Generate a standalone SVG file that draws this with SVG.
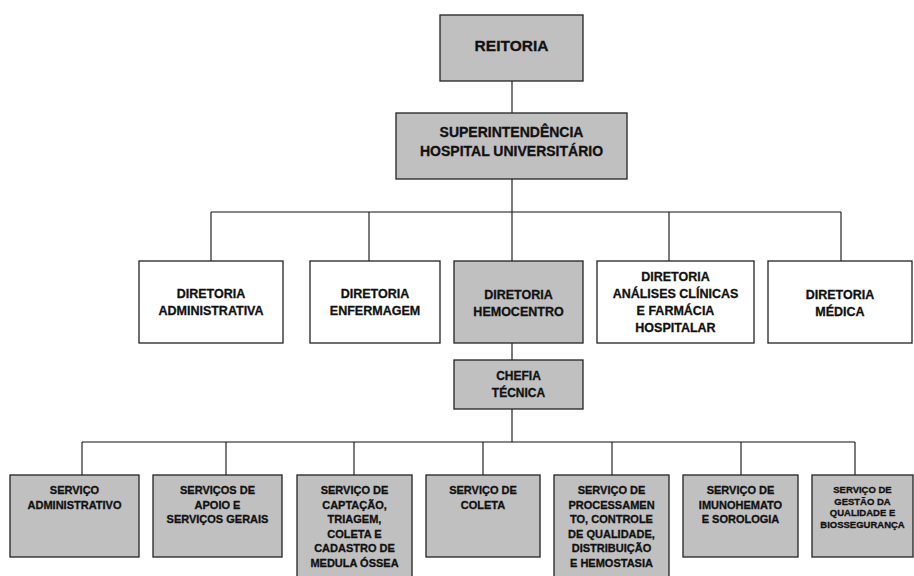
<svg xmlns="http://www.w3.org/2000/svg" width="914" height="576" viewBox="0 0 914 576">
  <style>
    .box { stroke: #222; stroke-width: 1.3; }
    .gray { fill: #c0c0c0; }
    .white { fill: #ffffff; }
    .t { font-family: "Liberation Sans", Arial, sans-serif; font-weight: 700; fill: #111; stroke: #111; stroke-width: 0.3; text-anchor: middle; }
    .f155 { font-size: 15.5px; }
    .f14 { font-size: 14px; }
    .f125 { font-size: 12.5px; }
    .f12 { font-size: 12px; }
    .f11 { font-size: 11px; }
    .f95 { font-size: 9.5px; }
    .link { stroke: #111; stroke-width: 1.1; fill: none; }
  </style>
  <rect x="0" y="0" width="914" height="576" fill="#ffffff"/>

  <g id="connectors">
    <path class="link" d="M512 81 V113 M512 179 V212 M211 212 H841 M211 212 V261 M369 212 V261 M512 212 V261 M669 212 V261 M841 212 V261"/>
    <path class="link" d="M512 343 V360 M512 409 V442 M82 442 H855 M82 442 V475 M226 442 V475 M354 442 V475 M483 442 V475 M612 442 V475 M741 442 V475 M855 442 V475"/>
  </g>

  <g id="reitoria">
    <rect class="box gray" x="440" y="15" width="143" height="66"/>
    <text class="t f155" x="511.5" y="51">REITORIA</text>
  </g>

  <g id="superintendencia">
    <rect class="box gray" x="396" y="113" width="231" height="66"/>
    <text class="t f14" x="511.5" y="137">SUPERINTENDÊNCIA</text>
    <text class="t f14" x="511.5" y="156">HOSPITAL UNIVERSITÁRIO</text>
  </g>

  <g id="dir-administrativa">
    <rect class="box white" x="139" y="261" width="144" height="82"/>
    <text class="t f125" x="211" y="298">DIRETORIA</text>
    <text class="t f125" x="211" y="315">ADMINISTRATIVA</text>
  </g>

  <g id="dir-enfermagem">
    <rect class="box white" x="310" y="261" width="130" height="82"/>
    <text class="t f125" x="375" y="298">DIRETORIA</text>
    <text class="t f125" x="375" y="315">ENFERMAGEM</text>
  </g>

  <g id="dir-hemocentro">
    <rect class="box gray" x="454" y="261" width="129" height="82"/>
    <text class="t f125" x="518.5" y="299">DIRETORIA</text>
    <text class="t f125" x="518.5" y="316">HEMOCENTRO</text>
  </g>

  <g id="dir-analises">
    <rect class="box white" x="597" y="261" width="157" height="82"/>
    <text class="t f125" x="675.5" y="281">DIRETORIA</text>
    <text class="t f125" x="675.5" y="298">ANÁLISES CLÍNICAS</text>
    <text class="t f125" x="675.5" y="315">E FARMÁCIA</text>
    <text class="t f125" x="675.5" y="332">HOSPITALAR</text>
  </g>

  <g id="dir-medica">
    <rect class="box white" x="768" y="261" width="144" height="82"/>
    <text class="t f125" x="840" y="299">DIRETORIA</text>
    <text class="t f125" x="840" y="316">MÉDICA</text>
  </g>

  <g id="chefia-tecnica">
    <rect class="box gray" x="454" y="360" width="129" height="49"/>
    <text class="t f12" x="518.5" y="380">CHEFIA</text>
    <text class="t f12" x="518.5" y="397">TÉCNICA</text>
  </g>

  <g id="serv-administrativo">
    <rect class="box gray" x="10" y="475" width="129" height="82"/>
    <text class="t f11" x="74.5" y="494">SERVIÇO</text>
    <text class="t f11" x="74.5" y="508.5">ADMINISTRATIVO</text>
  </g>

  <g id="serv-apoio">
    <rect class="box gray" x="153" y="475" width="129" height="82"/>
    <text class="t f11" x="217.5" y="494">SERVIÇOS DE</text>
    <text class="t f11" x="217.5" y="508.5">APOIO E</text>
    <text class="t f11" x="217.5" y="523">SERVIÇOS GERAIS</text>
  </g>

  <g id="serv-captacao">
    <rect class="box gray" x="297" y="475" width="115" height="106"/>
    <text class="t f11" x="354.5" y="494">SERVIÇO DE</text>
    <text class="t f11" x="354.5" y="508.5">CAPTAÇÃO,</text>
    <text class="t f11" x="354.5" y="523">TRIAGEM,</text>
    <text class="t f11" x="354.5" y="537.5">COLETA E</text>
    <text class="t f11" x="354.5" y="552">CADASTRO DE</text>
    <text class="t f11" x="354.5" y="566.5">MEDULA ÓSSEA</text>
  </g>

  <g id="serv-coleta">
    <rect class="box gray" x="426" y="475" width="114" height="82"/>
    <text class="t f11" x="483" y="494">SERVIÇO DE</text>
    <text class="t f11" x="483" y="508.5">COLETA</text>
  </g>

  <g id="serv-processamento">
    <rect class="box gray" x="554" y="475" width="115" height="106"/>
    <text class="t f11" x="611.5" y="494">SERVIÇO DE</text>
    <text class="t f11" x="611.5" y="508.5">PROCESSAMEN</text>
    <text class="t f11" x="611.5" y="523">TO, CONTROLE</text>
    <text class="t f11" x="611.5" y="537.5">DE QUALIDADE,</text>
    <text class="t f11" x="611.5" y="552">DISTRIBUIÇÃO</text>
    <text class="t f11" x="611.5" y="566.5">E HEMOSTASIA</text>
  </g>

  <g id="serv-imunohemato">
    <rect class="box gray" x="683" y="475" width="115" height="82"/>
    <text class="t f11" x="740.5" y="494">SERVIÇO DE</text>
    <text class="t f11" x="740.5" y="508.5">IMUNOHEMATO</text>
    <text class="t f11" x="740.5" y="523">E SOROLOGIA</text>
  </g>

  <g id="serv-qualidade">
    <rect class="box gray" x="812" y="475" width="101" height="82"/>
    <text class="t f95" x="862.5" y="493">SERVIÇO DE</text>
    <text class="t f95" x="862.5" y="504.5">GESTÃO DA</text>
    <text class="t f95" x="862.5" y="516">QUALIDADE E</text>
    <text class="t f95" x="862.5" y="527.5">BIOSSEGURANÇA</text>
  </g>
</svg>
